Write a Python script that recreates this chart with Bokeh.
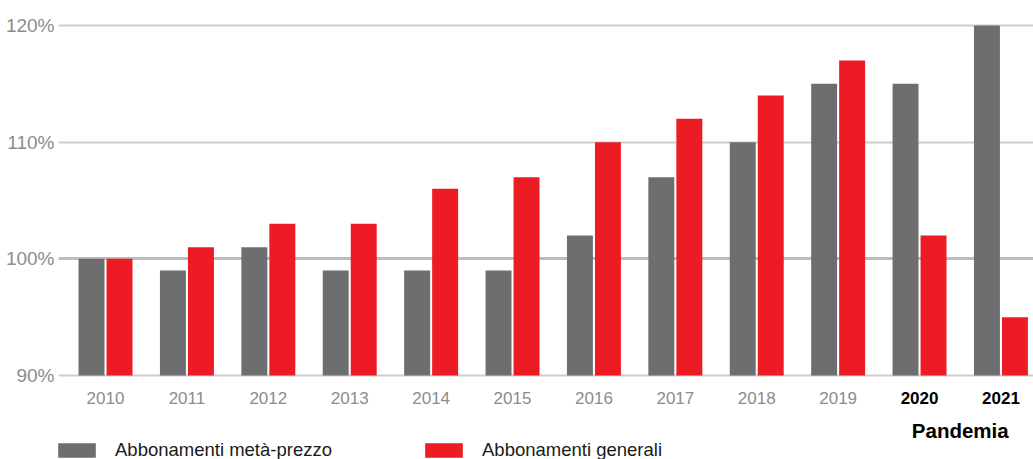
from bokeh.plotting import figure
from bokeh.models import (ColumnDataSource, Range1d, FixedTicker, PrintfTickFormatter,
                          Grid, Legend, LegendItem)
from bokeh.core.properties import value
from bokeh.transform import dodge
from bokeh.embed import file_html
from bokeh.resources import INLINE

years = ["2010", "2011", "2012", "2013", "2014", "2015", "2016", "2017", "2018", "2019", "2020", "2021"]
meta_prezzo = [100, 99, 101, 99, 99, 99, 102, 107, 110, 115, 115, 120]
generali = [100, 101, 103, 103, 106, 107, 110, 112, 114, 117, 102, 95]
pandemic_years = ["2020", "2021"]
pandemic_label = "Pandemia"
y_ticks = [90, 100, 110, 120]
baseline_tick = 100

GREY = "#6d6e70"
RED = "#ed1c24"
FONT = "Liberation Sans"

x = list(range(len(years)))
src = ColumnDataSource(dict(
    x=x, meta=meta_prezzo, gen=generali, year=years,
    color=["#000000" if y in pandemic_years else "#8c8c8c" for y in years],
    style=["bold" if y in pandemic_years else "normal" for y in years],
    base=[90] * len(years),
    label_y=[88.03] * len(years),
))

X0 = -0.504
p = figure(width=1033, height=459, output_backend="svg", toolbar_location=None,
           x_range=Range1d(X0 - 6 / 81.4, 11.40), y_range=Range1d(82.8, 122.14),
           min_border_left=58, min_border_right=0, min_border_top=0, min_border_bottom=0)
p.outline_line_color = None
p.background_fill_color = "white"

# grid
p.ygrid.ticker = FixedTicker(ticks=[t for t in y_ticks if t != baseline_tick])
p.ygrid.grid_line_color = "#cdcdcd"
p.ygrid.grid_line_width = 2
p.ygrid.bounds = (X0, 12)
p.xgrid.grid_line_color = None
p.add_layout(Grid(dimension=1, ticker=FixedTicker(ticks=[baseline_tick]), bounds=(X0, 12),
                  grid_line_color="#bdbdbd", grid_line_width=3))

r1 = p.vbar(x=dodge("x", -0.172, range=p.x_range), top="meta", bottom="base", width=0.319,
            source=src, fill_color=GREY, line_color=None)
r2 = p.vbar(x=dodge("x", 0.172, range=p.x_range), top="gen", bottom="base", width=0.319,
            source=src, fill_color=RED, line_color=None)

# y axis
p.yaxis.ticker = FixedTicker(ticks=y_ticks)
p.yaxis.formatter = PrintfTickFormatter(format="%d%%")
p.yaxis.axis_line_color = None
p.yaxis.major_tick_line_color = None
p.yaxis.minor_tick_line_color = None
p.yaxis.major_label_standoff = -2
p.yaxis.major_label_text_font = FONT
p.yaxis.major_label_text_font_size = "19px"
p.yaxis.major_label_text_color = "#8c8c8c"
p.xaxis.visible = False

# x labels (years)
p.text(x="x", y="label_y", text="year", source=src, text_align="center",
       text_baseline="middle", text_font=value(FONT), text_font_size="17px",
       text_color="color", text_font_style="style")
p.text(x=[10.5], y=[85.25], text=[pandemic_label], text_align="center", text_baseline="middle",
       text_font=value(FONT), text_font_size="20.5px", text_font_style="bold", text_color="#000000")

# legends
for item, loc in [(LegendItem(label="Abbonamenti metà-prezzo", renderers=[r1]), (-5, -2)),
                  (LegendItem(label="Abbonamenti generali", renderers=[r2]), (362, -2))]:
    lg = Legend(items=[item], location=loc, orientation="horizontal",
                glyph_width=47, glyph_height=18, label_standoff=15, padding=0, margin=0,
                border_line_color=None, background_fill_alpha=0,
                label_text_font=FONT, label_text_font_size="18.5px", label_text_color="#1a1a1a")
    p.add_layout(lg, "center")

open("out.html", "w").write(file_html(p, INLINE))
